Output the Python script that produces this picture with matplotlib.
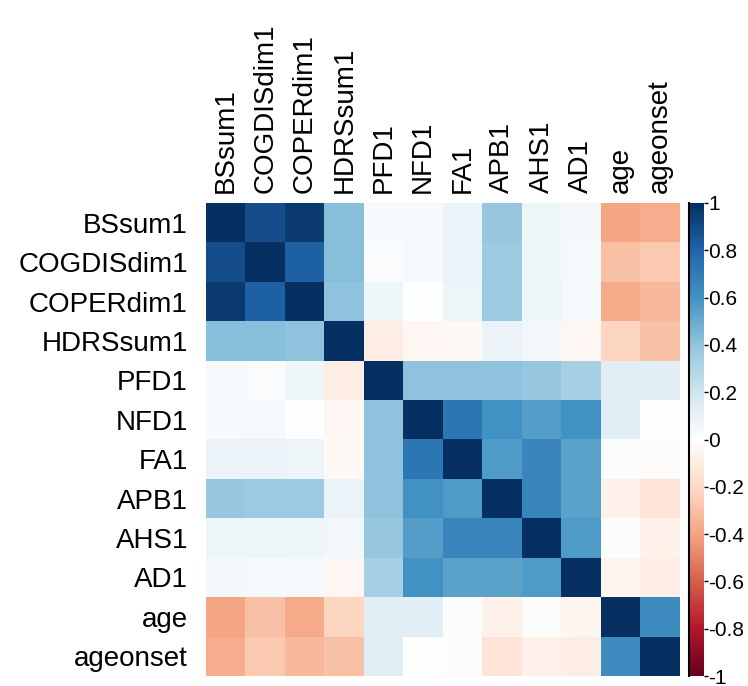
import numpy as np
import matplotlib.pyplot as plt
from matplotlib.colors import LinearSegmentedColormap

plt.rcParams['font.family'] = ['Liberation Sans', 'DejaVu Sans']

variables = ['BSsum1', 'COGDISdim1', 'COPERdim1', 'HDRSsum1', 'PFD1', 'NFD1',
             'FA1', 'APB1', 'AHS1', 'AD1', 'age', 'ageonset']

# upper triangle of the correlation matrix, row by row (diagonal excluded)
r_BSsum1 = [0.88, 0.95, 0.42, 0.03, 0.03, 0.08, 0.38, 0.07, 0.05, -0.40, -0.37]
r_COGDISdim1 = [0.81, 0.42, 0.02, 0.04, 0.08, 0.36, 0.07, 0.04, -0.30, -0.27]
r_COPERdim1 = [0.40, 0.06, 0.00, 0.07, 0.36, 0.06, 0.04, -0.38, -0.33]
r_HDRSsum1 = [-0.10, -0.05, -0.04, 0.08, 0.05, -0.05, -0.22, -0.30]
r_PFD1 = [0.40, 0.40, 0.40, 0.38, 0.33, 0.12, 0.13]
r_NFD1 = [0.72, 0.60, 0.55, 0.60, 0.12, 0.00]
r_FA1 = [0.57, 0.65, 0.53, 0.01, -0.02]
r_APB1 = [0.65, 0.53, -0.08, -0.15]
r_AHS1 = [0.56, 0.01, -0.08]
r_AD1 = [-0.06, -0.10]
r_age = [0.62]

upper_rows = [r_BSsum1, r_COGDISdim1, r_COPERdim1, r_HDRSsum1, r_PFD1, r_NFD1,
              r_FA1, r_APB1, r_AHS1, r_AD1, r_age]

cbar_ticks = [1, 0.8, 0.6, 0.4, 0.2, 0, -0.2, -0.4, -0.6, -0.8, -1]


def build_matrix():
    n = len(variables)
    m = np.eye(n)
    for i, row in enumerate(upper_rows):
        for k, val in enumerate(row):
            j = i + 1 + k
            m[i, j] = val
            m[j, i] = val
    return m


def main():
    corr = build_matrix()
    n = len(variables)

    cmap = LinearSegmentedColormap.from_list('corr', [
        '#67001F', '#B2182B', '#D6604D', '#F4A582', '#FDDBC7', '#FFFFFF',
        '#D1E5F0', '#92C5DE', '#4393C3', '#2166AC', '#053061'], N=200)

    W, H = 748, 686
    bottom = H - 676
    fig = plt.figure(figsize=(W / 100, H / 100), dpi=100)
    ax = fig.add_axes([206 / W, bottom / H, 474 / W, 473 / H])
    im = ax.imshow(corr, cmap=cmap, vmin=-1, vmax=1, aspect='auto',
                   interpolation='nearest')

    ax.set_xticks(range(n))
    ax.set_yticks(range(n))
    ax.set_xticklabels(variables, rotation=90, fontsize=20)
    ax.set_yticklabels(variables, fontsize=20)
    ax.xaxis.tick_top()
    ax.tick_params(axis='x', length=0, pad=7)
    ax.tick_params(axis='y', length=0, pad=13)
    for s in ax.spines.values():
        s.set_visible(False)

    cax = fig.add_axes([689 / W, bottom / H, 15 / W, 473 / H])
    cbar = fig.colorbar(im, cax=cax, ticks=cbar_ticks)
    cbar.outline.set_visible(False)
    cbar.ax.set_yticklabels([f'{t:g}' for t in cbar_ticks])
    cbar.ax.tick_params(labelsize=15, length=3, width=1, pad=0,
                        direction='out', color='black')
    cax.plot([0, 0], [0, 1], transform=cax.transAxes, color='black',
             lw=1.5, clip_on=False)

    fig.savefig('out.png', dpi=100, facecolor='white')


if __name__ == '__main__':
    main()
